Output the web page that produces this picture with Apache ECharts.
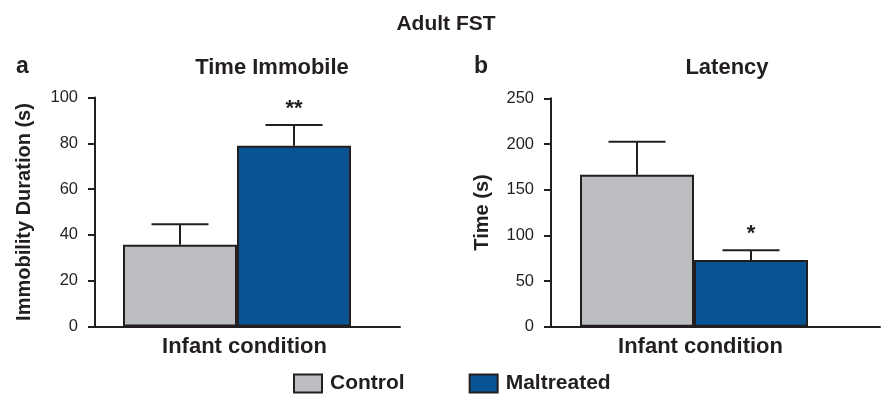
<!DOCTYPE html>
<html>
<head>
<meta charset="utf-8">
<script src="https://cdn.jsdelivr.net/npm/echarts@6/dist/echarts.min.js"></script>
<style>
html, body { margin: 0; padding: 0; background: #fff; }
#main { width: 881px; height: 395px; }
</style>
</head>
<body>
<div id="main"></div>
<script>
// data
var groups = ['Control', 'Maltreated'];
var immobileMean = [35.7, 78.9];
var immobileErr = [9.0, 9.1];
var immobileSig = ['', '**'];
var latencyMean = [166.4, 73.0];
var latencyErr = [36.1, 10.6];
var latencySig = ['', '*'];
var immobileAxis = [0, 100, 20]; // min, max, step
var latencyAxis = [0, 250, 50];

var DARK = '#231f20';
var COLORS = ['#bcbdc0', '#075393'];
var FONT = '"Liberation Sans", Arial, Helvetica, sans-serif';
var BAR_W = 114;

var chart = echarts.init(document.getElementById('main'));

function xAxisFor(idx, shift) {
    return {
        type: 'category', gridIndex: idx, data: [''],
        axisTick: { show: false }, axisLabel: { show: false },
        axisLine: { lineStyle: { color: DARK, width: 2 } },
        name: 'Infant condition', nameLocation: 'middle', nameGap: 9,
        nameTextStyle: { color: DARK, fontFamily: FONT, fontWeight: 'bold', fontSize: 22, padding: [0, shift, 0, 0] }
    };
}

function yAxisFor(idx, range, name, gap) {
    return {
        type: 'value', gridIndex: idx, min: range[0], max: range[1], interval: range[2],
        splitLine: { show: false },
        axisLine: { show: true, lineStyle: { color: DARK, width: 2 } },
        axisTick: { show: true, length: 7, lineStyle: { color: DARK, width: 2 } },
        axisLabel: { color: DARK, fontFamily: FONT, fontSize: 16.5, margin: 17 },
        name: name, nameLocation: 'middle', nameGap: gap,
        nameTextStyle: { color: DARK, fontFamily: FONT, fontWeight: 'bold', fontSize: 20 }
    };
}

function barSeries(idx, means, spacer) {
    var list = groups.map(function(g, i) {
        return {
            type: 'bar', name: g, xAxisIndex: idx, yAxisIndex: idx,
            data: [means[i]], barWidth: BAR_W, barGap: 0,
            itemStyle: { color: COLORS[i], borderColor: DARK, borderWidth: 2 }
        };
    });
    // invisible slot so the pair sits left of the category centre
    list.push({
        type: 'bar', name: 'spacer', xAxisIndex: idx, yAxisIndex: idx,
        data: ['-'], barWidth: spacer, barGap: 0, silent: true
    });
    return list;
}

function errorSeries(idx, means, errs, sigs, spacer) {
    return {
        type: 'custom', xAxisIndex: idx, yAxisIndex: idx, z: 5, silent: true,
        data: means.map(function(m, i) { return [0, m, m + errs[i], i]; }),
        renderItem: function(params, api) {
            var k = api.value(3);
            var total = BAR_W * 2 + spacer;
            var cx = api.coord([0, 0])[0] - total / 2 + BAR_W * k + BAR_W / 2;
            var yTop = api.coord([0, api.value(1)])[1];
            var yErr = api.coord([0, api.value(2)])[1];
            var st = { stroke: DARK, lineWidth: 2 };
            return {
                type: 'group',
                children: [
                    { type: 'line', shape: { x1: cx, y1: yTop, x2: cx, y2: yErr }, style: st },
                    { type: 'line', shape: { x1: cx - BAR_W / 4, y1: yErr, x2: cx + BAR_W / 4, y2: yErr }, style: st },
                    { type: 'text', style: { text: sigs[params.dataIndex], x: cx, y: yErr - 5,
                        textAlign: 'center', textVerticalAlign: 'bottom',
                        font: 'bold 22px ' + FONT, fill: DARK } }
                ]
            };
        }
    };
}

var titleStyle = { color: DARK, fontFamily: FONT, fontWeight: 'bold', fontSize: 21 };

var option = {
    animation: false,
    title: [
        { text: 'Adult FST', left: 441, top: 9, textAlign: 'center', textStyle: titleStyle },
        { text: 'Time Immobile', left: 267, top: 52, textAlign: 'center', textStyle: { color: DARK, fontFamily: FONT, fontWeight: 'bold', fontSize: 22 } },
        { text: 'Latency', left: 722, top: 52, textAlign: 'center', textStyle: { color: DARK, fontFamily: FONT, fontWeight: 'bold', fontSize: 22 } },
        { text: 'a', left: 11, top: 50, textStyle: { color: DARK, fontFamily: FONT, fontWeight: 'bold', fontSize: 23 } },
        { text: 'b', left: 469, top: 50, textStyle: { color: DARK, fontFamily: FONT, fontWeight: 'bold', fontSize: 23 } }
    ],
    legend: {
        data: groups, left: 293, top: 373, padding: 0, icon: 'rect',
        itemWidth: 28, itemHeight: 18, itemGap: 64,
        itemStyle: { borderColor: DARK, borderWidth: 2 },
        textStyle: { color: DARK, fontFamily: FONT, fontWeight: 'bold', fontSize: 21, padding: [0, 0, 0, 3] }
    },
    grid: [
        { left: 95, top: 97.5, width: 305, height: 229 },
        { left: 551, top: 98.3, width: 329, height: 228.4 }
    ],
    xAxis: [xAxisFor(0, 6), xAxisFor(1, 30)],
    yAxis: [
        yAxisFor(0, immobileAxis, 'Immobility Duration (s)', 61),
        yAxisFor(1, latencyAxis, 'Time (s)', 59)
    ],
    series: [].concat(
        barSeries(0, immobileMean, 21),
        barSeries(1, latencyMean, 43),
        [errorSeries(0, immobileMean, immobileErr, immobileSig, 21),
         errorSeries(1, latencyMean, latencyErr, latencySig, 43)]
    )
};

chart.setOption(option);
</script>
</body>
</html>
